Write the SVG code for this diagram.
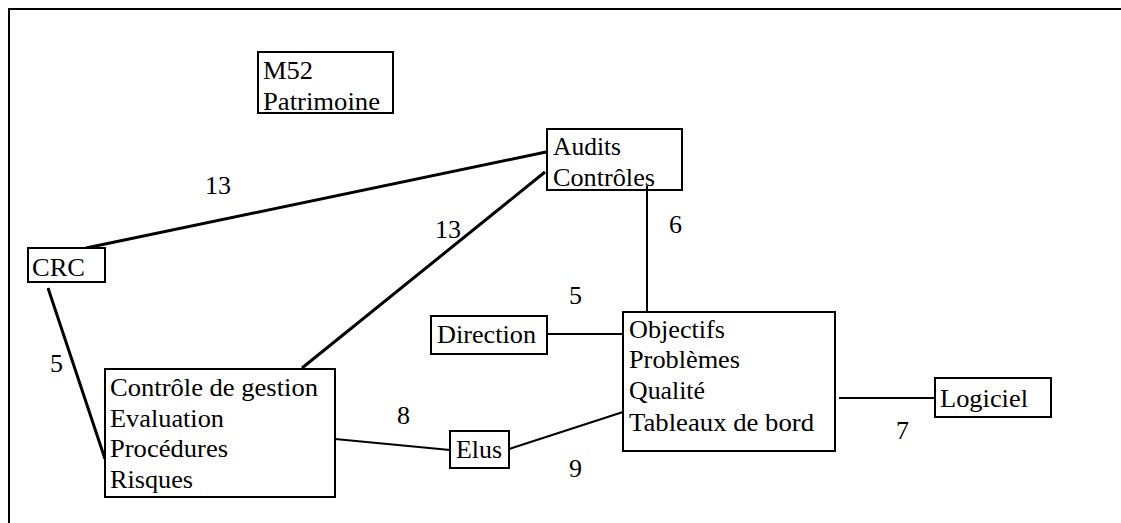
<svg xmlns="http://www.w3.org/2000/svg" width="1121" height="523" viewBox="0 0 1121 523">
<style>
  .box { fill: #fff; stroke: #000; stroke-width: 2; }
  text { font-family: 'Liberation Serif', 'Times New Roman', serif; font-size: 26px; fill: #000; }
  .num { font-size: 26px; }
  .thick { stroke: #000; stroke-width: 3; fill: none; }
  .thin { stroke: #000; stroke-width: 2; fill: none; }
  .frame { stroke: #000; stroke-width: 2; fill: none; }
</style>
<rect width="1121" height="523" fill="#fff"/>
<path class="frame" d="M9,523 V9 H1121"/>
<g id="connectors">
  <line class="thick" x1="86" y1="248" x2="546" y2="152"/>
  <line class="thick" x1="302" y1="368" x2="545" y2="172"/>
  <line class="thick" x1="48" y1="288" x2="105" y2="459"/>
  <line class="thin" x1="647" y1="186" x2="647" y2="312"/>
  <line class="thin" x1="547" y1="334" x2="623" y2="334"/>
  <line class="thin" x1="335" y1="439" x2="450" y2="450"/>
  <line class="thin" x1="509" y1="449" x2="623" y2="412"/>
  <line class="thin" x1="839" y1="398" x2="935" y2="398"/>
  <text class="num" x="205" y="194">13</text>
  <text class="num" x="435" y="238">13</text>
  <text class="num" x="50" y="372">5</text>
  <text class="num" x="669" y="233">6</text>
  <text class="num" x="569" y="304">5</text>
  <text class="num" x="397" y="424">8</text>
  <text class="num" x="569" y="477">9</text>
  <text class="num" x="896" y="439">7</text>
</g>
<g id="m52">
  <rect class="box" x="258" y="52" width="135" height="61"/>
  <text x="263" y="79" textLength="50" lengthAdjust="spacingAndGlyphs">M52</text>
  <text x="263" y="110" textLength="117" lengthAdjust="spacingAndGlyphs">Patrimoine</text>
</g>
<g id="audits">
  <rect class="box" x="547" y="129" width="135" height="61"/>
  <text x="553" y="155" textLength="68" lengthAdjust="spacingAndGlyphs">Audits</text>
  <text x="553" y="186" textLength="102" lengthAdjust="spacingAndGlyphs">Contrôles</text>
  <line class="thin" x1="647" y1="186" x2="647" y2="190"/>
</g>
<g id="crc">
  <rect class="box" x="28" y="248" width="77" height="34"/>
  <text x="32" y="276" textLength="53" lengthAdjust="spacingAndGlyphs">CRC</text>
</g>
<g id="controle">
  <rect class="box" x="105" y="369" width="230" height="128"/>
  <text x="110" y="396" textLength="208" lengthAdjust="spacingAndGlyphs">Contrôle de gestion</text>
  <text x="110" y="427" textLength="114" lengthAdjust="spacingAndGlyphs">Evaluation</text>
  <text x="110" y="457" textLength="118" lengthAdjust="spacingAndGlyphs">Procédures</text>
  <text x="110" y="488" textLength="83" lengthAdjust="spacingAndGlyphs">Risques</text>
</g>
<g id="direction">
  <rect class="box" x="431" y="316" width="116" height="38"/>
  <text x="437" y="343" textLength="99" lengthAdjust="spacingAndGlyphs">Direction</text>
</g>
<g id="objectifs">
  <rect class="box" x="623" y="312" width="212" height="139"/>
  <text x="629" y="338" textLength="96" lengthAdjust="spacingAndGlyphs">Objectifs</text>
  <text x="629" y="368" textLength="111" lengthAdjust="spacingAndGlyphs">Problèmes</text>
  <text x="629" y="399" textLength="76" lengthAdjust="spacingAndGlyphs">Qualité</text>
  <text x="629" y="431" textLength="185" lengthAdjust="spacingAndGlyphs">Tableaux de bord</text>
</g>
<g id="elus">
  <rect class="box" x="450" y="431" width="59" height="37"/>
  <text x="456" y="458" textLength="46" lengthAdjust="spacingAndGlyphs">Elus</text>
</g>
<g id="logiciel">
  <rect class="box" x="935" y="378" width="116" height="39"/>
  <text x="940" y="407" textLength="88" lengthAdjust="spacingAndGlyphs">Logiciel</text>
</g>
</svg>
